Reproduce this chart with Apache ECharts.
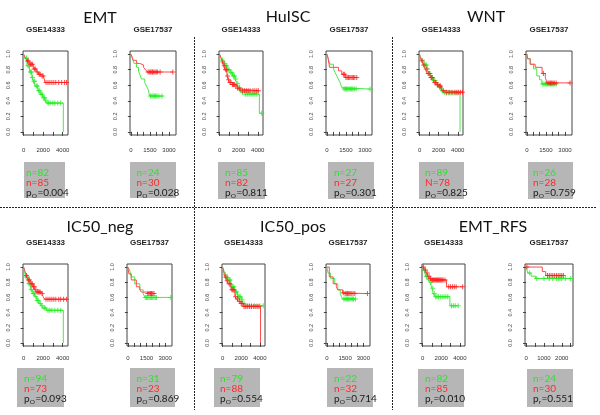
<!DOCTYPE html>
<html><head><meta charset="utf-8">
<script src="https://cdn.jsdelivr.net/npm/echarts@6/dist/echarts.min.js"></script>
<style>html,body{margin:0;padding:0;background:#fff}#c{width:600px;height:415px}</style>
</head><body><div id="c"></div>
<script>
// ---------- DATA ----------
const panelTitles = ['EMT','HuISC','WNT','IC50_neg','IC50_pos','EMT_RFS'];
const cohortNames = ['GSE14333','GSE17537'];
const nGreen = ['n=82','n=24','n=85','n=27','n=89','n=26','n=94','n=31','n=79','n=22','n=82','n=24'];
const nRed   = ['n=85','n=30','n=82','n=27','N=78','n=28','n=73','n=23','n=88','n=32','n=85','n=30'];
const pSub   = ['O','O','O','O','O','O','O','O','O','O','r','r'];
const pVals  = ['0.004','0.028','0.811','0.301','0.825','0.759','0.093','0.869','0.554','0.714','0.010','0.551'];

// Kaplan-Meier steps [time, survival] and censor times
const emtA_green = [[0,1],[100,0.95],[340,0.85],[600,0.77],[850,0.70],[1000,0.65],[1190,0.59],[1450,0.53],[1700,0.485],[1950,0.44],[2200,0.40],[2370,0.37],[4070,0]];
const emtA_greenC = [300,450,550,700,800,900,1050,1150,1300,1400,1550,1650,1800,1900,2050,2150,2300,2500,2600,2800,3000,3200,3500,3800];
const emtA_red = [[0,1],[150,0.96],[340,0.91],[600,0.87],[1000,0.81],[1300,0.77],[1525,0.74],[1800,0.72],[2030,0.70],[2200,0.635],[4470,0.635]];
const emtA_redC = [400,500,700,800,900,1100,1200,1400,1600,1700,1900,2000,2300,2500,2700,2900,3100,3300,3600,3900,4200,4400];
const emtB_green = [[0,1],[120,0.94],[250,0.88],[440,0.83],[600,0.78],[700,0.74],[830,0.68],[1090,0.635],[1220,0.59],[1350,0.55],[1480,0.46],[2500,0.46]];
const emtB_greenC = [1550,1650,1750,1850,1950,2050,2200,2450];
const emtB_red = [[0,1],[100,0.96],[200,0.92],[450,0.88],[700,0.86],[1000,0.83],[1150,0.80],[1300,0.77],[3300,0.77]];
const emtB_redC = [1350,1450,1550,1650,1700,1800,1900,2000,2100,2300,3300];

const husA_green = [[0,1],[100,0.97],[250,0.92],[400,0.88],[590,0.85],[800,0.80],[1110,0.76],[1350,0.72],[1630,0.68],[1800,0.62],[1980,0.57],[2150,0.54],[2330,0.51],[2600,0.485],[4170,0.24],[4420,0.24]];
const husA_greenC = [300,500,650,750,900,1000,1200,1300,1450,1550,1700,1900,2100,2200,2400,2700,2900,3100,3300,3500,3700,3900,4420];
const husA_red = [[0,1],[150,0.95],[300,0.90],[420,0.85],[550,0.80],[770,0.72],[900,0.67],[1050,0.635],[1300,0.61],[1630,0.59],[1850,0.56],[1980,0.55],[2300,0.53],[4070,0.53]];
const husA_redC = [350,500,650,700,850,950,1100,1200,1350,1450,1550,1700,1900,2100,2400,2600,2800,3000,3200,3500,3700,3900,4070];
const husB_green = [[0,1],[100,0.94],[250,0.87],[520,0.81],[650,0.76],[780,0.72],[900,0.68],[1040,0.635],[1170,0.57],[1300,0.55],[3400,0.55]];
const husB_greenC = [1350,1450,1550,1650,1750,1850,1950,2050,2150,2300,3400];
const husB_red = [[0,1],[80,0.96],[210,0.83],[910,0.785],[1170,0.74],[1440,0.70],[2350,0.70]];
const husB_redC = [1300,1400,1500,1600,1700,1800,1900,2000,2100,2200,2350];

const wntA_green = [[0,1],[100,0.96],[240,0.91],[450,0.86],[770,0.81],[950,0.75],[1180,0.70],[1400,0.66],[1630,0.635],[1800,0.60],[1980,0.57],[2300,0.53],[2500,0.51],[2700,0.50],[4240,0]];
const wntA_greenC = [300,500,600,700,850,1000,1100,1250,1350,1500,1600,1700,1850,1950,2100,2200,2400,2600,2800,3000,3200,3400,3600,3800,4000];
const wntA_red = [[0,1],[60,0.96],[200,0.92],[400,0.86],[600,0.81],[800,0.75],[1100,0.70],[1450,0.635],[1800,0.61],[2000,0.59],[2300,0.53],[2650,0.51],[4520,0.51]];
const wntA_redC = [250,450,700,900,1000,1200,1300,1600,1700,1900,2100,2200,2500,2800,3100,3400,3700,3900,4100,4300,4500];
const wntB_green = [[0,1],[60,0.94],[260,0.87],[520,0.81],[780,0.72],[1000,0.67],[1170,0.615],[2350,0.615]];
const wntB_greenC = [1250,1350,1450,1550,1650,1750,1850,1950,2050,2150,2300];
const wntB_red = [[0,1],[60,0.94],[260,0.87],[650,0.83],[1200,0.75],[1450,0.70],[1570,0.63],[3400,0.63]];
const wntB_redC = [1300,1650,1750,1850,1950,2050,2150,2300,3400];

const negA_green = [[0,1],[100,0.94],[200,0.87],[450,0.78],[690,0.70],[900,0.65],[1140,0.61],[1350,0.56],[1590,0.52],[1800,0.49],[2000,0.46],[2340,0.43],[4070,0]];
const negA_greenC = [250,400,550,650,800,1000,1100,1250,1400,1500,1700,1900,2100,2200,2500,2700,2900,3200,3500,3800];
const negA_red = [[0,1],[100,0.96],[280,0.89],[450,0.83],[700,0.78],[970,0.74],[1150,0.70],[1310,0.67],[1830,0.65],[2000,0.61],[2170,0.575],[4480,0.575]];
const negA_redC = [300,500,600,800,900,1000,1100,1250,1400,1500,1600,1700,1900,2300,2500,2700,2900,3100,3300,3600,3800,4100,4400];
const negB_green = [[0,1],[140,0.96],[270,0.87],[550,0.78],[960,0.70],[1230,0.65],[1370,0.60],[3450,0.60]];
const negB_greenC = [1400,1500,1600,1700,1800,1900,2000,2100,2200,2300,3450];
const negB_red = [[0,1],[80,0.91],[270,0.83],[680,0.74],[960,0.70],[1100,0.67],[1500,0.65],[2100,0.65]];
const negB_redC = [1600,1700,1800,1850,1900,2000,2100];

const posA_green = [[0,1],[150,0.95],[250,0.90],[400,0.86],[600,0.83],[900,0.74],[1320,0.67],[1600,0.61],[2040,0.57],[2200,0.52],[2390,0.49],[4360,0.49]];
const posA_greenC = [300,450,550,700,800,1000,1100,1200,1400,1500,1700,1800,1900,2100,2300,2500,2700,2900,3100,3400,3700,4000,4360];
const posA_red = [[0,1],[100,0.95],[250,0.87],[450,0.82],[600,0.78],[900,0.70],[1320,0.61],[1500,0.58],[1680,0.55],[1950,0.52],[2210,0.48],[4070,0]];
const posA_redC = [350,500,700,800,1000,1100,1200,1400,1600,1800,2000,2100,2300,2500,2700,2900,3100,3300,3500,3700,3900];
const posB_green = [[0,1],[100,0.92],[300,0.85],[650,0.78],[900,0.70],[1100,0.65],[1200,0.61],[1300,0.58],[2350,0.58]];
const posB_greenC = [1400,1500,1600,1700,1800,1900,2000,2100,2200,2350];
const posB_red = [[0,1],[200,0.87],[520,0.78],[780,0.74],[900,0.70],[1300,0.66],[1450,0.65],[3340,0.65]];
const posB_redC = [1350,1500,1600,1700,1800,1900,2000,2150,2300,3340];

const rfsA_green = [[0,1],[150,0.96],[350,0.88],[600,0.84],[800,0.80],[1000,0.72],[1150,0.65],[1320,0.61],[2930,0.49],[3820,0.49]];
const rfsA_greenC = [200,400,500,650,900,1100,1250,1400,1550,1700,1900,2100,2300,2500,2700,3100,3300,3500,3820];
const rfsA_red = [[0,1],[150,0.98],[250,0.96],[430,0.92],[600,0.88],[800,0.85],[960,0.83],[2570,0.74],[4360,0.74]];
const rfsA_redC = [100,300,500,700,850,1000,1100,1200,1300,1400,1500,1600,1700,1800,1900,2000,2100,2200,2400,2800,3000,3200,3400,3600,4300];
const rfsB_green = [[0,1],[50,0.96],[100,0.92],[280,0.88],[530,0.85],[2550,0.85]];
const rfsB_greenC = [200,600,1000,1300,1500,1700,1800,1900,2000,2200,2500];
const rfsB_red = [[0,1],[910,0.94],[1100,0.89],[2090,0.89]];
const rfsB_redC = [50,1200,1300,1400,1500,1600,1700,1800,1900,2000,2090];

const xTicks14333 = [0,1000,2000,3000,4000];
const xLabels14333 = [0,2000,4000];
const xTicks17537 = [0,500,1000,1500,2000,2500,3000];
const xLabels17537 = [0,1500,3000];
const xTicksRfs17537 = [0,500,1000,1500,2000,2500];
const xLabelsRfs17537 = [0,1000,2000];
const yTicks = [0,0.2,0.4,0.6,0.8,1.0];

// ---------- LAYOUT ----------
const curves = [
  [emtA_green,emtA_greenC,emtA_red,emtA_redC],[emtB_green,emtB_greenC,emtB_red,emtB_redC],
  [husA_green,husA_greenC,husA_red,husA_redC],[husB_green,husB_greenC,husB_red,husB_redC],
  [wntA_green,wntA_greenC,wntA_red,wntA_redC],[wntB_green,wntB_greenC,wntB_red,wntB_redC],
  [negA_green,negA_greenC,negA_red,negA_redC],[negB_green,negB_greenC,negB_red,negB_redC],
  [posA_green,posA_greenC,posA_red,posA_redC],[posB_green,posB_greenC,posB_red,posB_redC],
  [rfsA_green,rfsA_greenC,rfsA_red,rfsA_redC],[rfsB_green,rfsB_greenC,rfsB_red,rfsB_redC]
];
const gridBox = [
  [23,51,45,84],[130,51,46,84],[219,51,44,84],[326,51,46,84],[419,51,44,84],[526,51,46,84],
  [23,264,45,82],[127,264,45,82],[222,264,43,82],[326,264,44,82],[422,264,43,82],[525,264,48,82]
];
const statBox = [
  [24,162,65,198],[130,162,176,198],[218,162,265,199],[328,162,374,199],[419,162,464,199],[528,162,573,199],
  [17,368,64,407],[130,368,175,407],[214,368,260,407],[327,368,373,407],[418,369,464,407],[527,369,573,407]
];
const statTextX = [26,136.5,225,334,425,533,24,136.5,220,334,425,533];
const titlePos = [[100,17.5],[288,17],[486,17],[100,227],[293,227],[493,227]];

function survAt(steps, t){ let s = 1; for (const [tt,ss] of steps){ if (tt <= t) s = ss; } return s; }
const mctx = document.createElement('canvas').getContext('2d');
function tw(text, size){ mctx.font = size + 'px Lato'; return mctx.measureText(text).width; }

const CROSS = 'path://M2,0H3V2H5V3H3V5H2V3H0V2H2Z';
const GREEN_L = '#4be84b', GREEN_M = '#22ee22', RED_L = '#ff4a4a', RED_M = '#ff1e1e';
const SF = 10; // stats font size

const grids = [], xAxes = [], yAxes = [], series = [], graphics = [];
for (let i = 0; i < 12; i++){
  const [l,t,w,h] = gridBox[i];
  const row = i < 6 ? 0 : 1;
  const isB = i % 2 === 1;
  const isRfsB = i === 11;
  grids.push({left:l, top:t, width:w, height:h, show:true, borderColor:'#444', borderWidth:1, backgroundColor:'transparent'});
  const xr = isRfsB ? [-60,2630] : (isB ? [-70,3550] : [-60,4550]);
  const xt = isRfsB ? xTicksRfs17537 : (isB ? xTicks17537 : xTicks14333);
  const xl = isRfsB ? xLabelsRfs17537 : (isB ? xLabels17537 : xLabels14333);
  xAxes.push({type:'value', gridIndex:i, min:xr[0], max:xr[1], splitLine:{show:false},
    axisLine:{show:false},
    axisTick:{show:true, length:4, customValues:xt, lineStyle:{color:'#444', width:1}},
    axisLabel:{customValues:xl, fontSize:6, color:'#333', margin: row===0 ? 12 : 9, fontFamily:'Liberation Sans',
      formatter: v => String(v)}});
  yAxes.push({type:'value', gridIndex:i, min:-0.04, max:1.04, splitLine:{show:false},
    axisLine:{show:false},
    axisTick:{show:true, length:3, customValues:yTicks, lineStyle:{color:'#444', width:1}},
    axisLabel:{customValues:yTicks, rotate:90, fontSize:5.5, color:'#444', margin:12, fontFamily:'Liberation Sans',
      formatter: v => v.toFixed(1)}});
  const [g,gc,r,rc] = curves[i];
  series.push({type:'line', xAxisIndex:i, yAxisIndex:i, data:g, step:'end', showSymbol:false, silent:true,
    lineStyle:{color:GREEN_L, width:1}, z:2});
  series.push({type:'scatter', xAxisIndex:i, yAxisIndex:i, data:gc.map(tt => [tt, survAt(g, tt)]),
    symbol:CROSS, symbolSize:5, itemStyle:{color:GREEN_M}, z:3});
  series.push({type:'line', xAxisIndex:i, yAxisIndex:i, data:r, step:'end', showSymbol:false, silent:true,
    lineStyle:{color:RED_L, width:1}, z:4});
  series.push({type:'scatter', xAxisIndex:i, yAxisIndex:i, data:rc.map(tt => [tt, survAt(r, tt)]),
    symbol:CROSS, symbolSize:5, itemStyle:{color:RED_M}, z:5});

  // cohort title
  graphics.push({type:'text', x:l + w/2, y: row===0 ? 30 : 243, style:{text:cohortNames[i%2], fontSize:8, fontWeight:'bold',
    fontFamily:'Liberation Sans', fill:'#222', align:'center', verticalAlign:'middle'}});
  // stats box
  const [x0,y0,x1,y1] = statBox[i];
  graphics.push({type:'rect', shape:{x:x0, y:y0, width:x1-x0, height:y1-y0}, style:{fill:'#b6b6b6'}});
  const ys = row===0 ? [172.5,182.5,192.5] : [378.5,388.5,398.5];
  const tx = statTextX[i];
  graphics.push({type:'text', x:tx, y:ys[0], style:{text:nGreen[i], fontSize:SF, fontFamily:'Lato', fill:'#2ee02e', verticalAlign:'middle'}});
  graphics.push({type:'text', x:tx, y:ys[1], style:{text:nRed[i], fontSize:SF, fontFamily:'Lato', fill:'#ff2a2a', verticalAlign:'middle'}});
  const pw = tw('p', SF), sw = tw(pSub[i], 6.5);
  graphics.push({type:'text', x:tx, y:ys[2], style:{text:'p', fontSize:SF, fontFamily:'Lato', fill:'#1a1a1a', verticalAlign:'middle'}});
  graphics.push({type:'text', x:tx + pw + 0.2, y:ys[2] + 3, style:{text:pSub[i], fontSize:6.5, fontFamily:'Lato', fill:'#1a1a1a', verticalAlign:'middle'}});
  graphics.push({type:'text', x:tx + pw + sw + 0.6, y:ys[2], style:{text:'=' + pVals[i], fontSize:SF, fontFamily:'Lato', fill:'#1a1a1a', verticalAlign:'middle'}});
}
panelTitles.forEach((tt, k) => {
  graphics.push({type:'text', x:titlePos[k][0], y:titlePos[k][1], style:{text:tt, fontSize:16, fontFamily:'Lato', fill:'#111',
    align:'center', verticalAlign:'middle'}});
});
// dashed separators
const dash = {stroke:'#222', lineWidth:1, lineDash:[2,1]};
graphics.push({type:'line', shape:{x1:0, y1:207.5, x2:597, y2:207.5}, style:dash});
graphics.push({type:'line', shape:{x1:194.5, y1:37, x2:194.5, y2:410}, style:dash});
graphics.push({type:'line', shape:{x1:392.5, y1:37, x2:392.5, y2:410}, style:dash});

const chart = echarts.init(document.getElementById('c'), null, {renderer:'canvas'});
chart.setOption({animation:false, backgroundColor:'#fff', grid:grids, xAxis:xAxes, yAxis:yAxes, series:series, graphic:graphics});
</script></body></html>
